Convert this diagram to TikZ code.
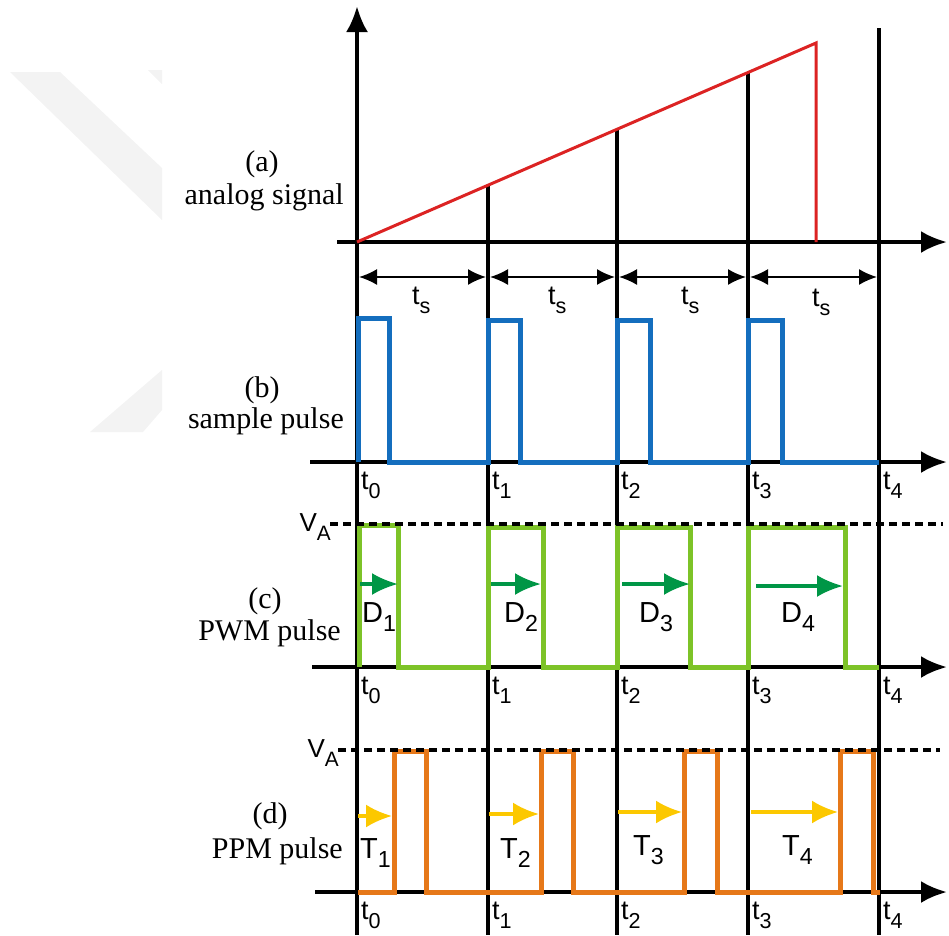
\documentclass[tikz,border=0pt]{standalone}
\usepackage{fontspec}
\setmainfont{Liberation Serif}
\newfontfamily\arialf{Liberation Sans}
\usetikzlibrary{arrows.meta}
\definecolor{sigred}{RGB}{220,35,35}
\definecolor{sigblue}{RGB}{20,110,190}
\definecolor{siggreen}{RGB}{125,195,40}
\definecolor{arrgreen}{RGB}{0,150,70}
\definecolor{sigorange}{RGB}{230,120,25}
\definecolor{arryellow}{RGB}{252,200,0}
\definecolor{wmark}{RGB}{243,243,243}
\newcommand\subsc[1]{\raisebox{-0.34em}{\scalebox{0.8}{#1}}}
\tikzset{
  axisline/.style={line width=4pt, -{Latex[length=26pt,width=22pt]}},
  tline/.style={line width=3.6pt},
  dimarrow/.style={line width=1.8pt, {Latex[length=18pt,width=16pt]}-{Latex[length=18pt,width=16pt]}},
  redsig/.style={line width=3pt, sigred},
  bluesig/.style={line width=5pt, sigblue, line join=miter},
  greensig/.style={line width=5pt, siggreen, line join=miter},
  orangesig/.style={line width=5pt, sigorange, line join=miter},
  vadash/.style={line width=3.2pt, dash pattern=on 8pt off 5pt},
  darr/.style={line width=3.2pt, arrgreen, -{Latex[length=26pt,width=22pt]}},
  tarr/.style={line width=3.2pt, arryellow, -{Latex[length=26pt,width=23pt]}},
  serlab/.style={font=\fontsize{30}{32}\selectfont, inner sep=0pt, anchor=base},
  serlabr/.style={font=\fontsize{30}{32}\selectfont, inner sep=0pt, anchor=base east},
  tlab/.style={font=\arialf\fontsize{27}{27}\selectfont, inner sep=0pt, anchor=base west},
  dlab/.style={font=\arialf\fontsize{29}{29}\selectfont, inner sep=0pt, anchor=base west},
  valab/.style={font=\arialf\fontsize{26}{26}\selectfont, inner sep=0pt, anchor=east},
}
\begin{document}
\begin{tikzpicture}[x=1pt,y=-1pt]
\useasboundingbox (0,0) rectangle (949,935);
% faint watermark
\fill[wmark] (10,72) -- (60,72) -- (162,168) -- (162,220) -- cycle;
\fill[wmark] (148,70) -- (162,70) -- (162,84) -- cycle;
\fill[wmark] (162,370) -- (162,410) -- (143,432) -- (90,432) -- cycle;

% time grid lines
\draw[tline] (488,185) -- (488,935);
\draw[tline] (617,130) -- (617,935);
\draw[tline] (748,72) -- (748,935);
\draw[tline] (879,28) -- (879,935);

% axes
\draw[axisline] (357,935) -- (357,6);
\draw[axisline] (337,242) -- (947,242);
\draw[axisline] (310,462) -- (947,462);
\draw[axisline] (312,667) -- (947,667);
\draw[axisline] (315,892) -- (947,892);

% (a) analog ramp
\draw[redsig] (357,242) -- (816,43) -- (816,242);

% sampling period arrows
\draw[dimarrow] (359,277) -- (486,277);
\draw[dimarrow] (490,277) -- (615,277);
\draw[dimarrow] (619,277) -- (746,277);
\draw[dimarrow] (750,277) -- (877,277);
\node[tlab] (ts1) at (412,304) {t\subsc{s}};
\node[tlab] (ts2) at (548,304) {t\subsc{s}};
\node[tlab] (ts3) at (681,304) {t\subsc{s}};
\node[tlab] (ts4) at (812,306) {t\subsc{s}};

% (b) sample pulses
\draw[bluesig] (358,462) -- (358,318) -- (389,318) -- (389,462) -- (488,462)
  -- (488,320) -- (520,320) -- (520,462) -- (617,462)
  -- (617,320) -- (650,320) -- (650,462) -- (748,462)
  -- (748,320) -- (782,320) -- (782,462) -- (879,462);

% (c) PWM pulses
\draw[greensig] (359,667) -- (359,525) -- (398,525) -- (398,667) -- (488,667)
  -- (488,527) -- (543,527) -- (543,667) -- (617,667)
  -- (617,527) -- (690,527) -- (690,667) -- (748,667)
  -- (748,527) -- (845,527) -- (845,667) -- (879,667);
\draw[vadash] (330,524) -- (943,524);
\draw[darr] (360,584) -- (398,584);
\draw[darr] (491,584) -- (541,584);
\draw[darr] (622,584) -- (690,584);
\draw[darr] (756,586) -- (843,586);

% (d) PPM pulses
\draw[orangesig] (358,892) -- (394,892) -- (394,751) -- (426,751) -- (426,892)
  -- (541,892) -- (541,751) -- (573,751) -- (573,892)
  -- (684,892) -- (684,751) -- (717,751) -- (717,892)
  -- (840,892) -- (840,751) -- (873,751) -- (873,892) -- (880,892);
\draw[vadash] (338,750) -- (940,750);
\draw[tarr] (358,816) -- (392,816);
\draw[tarr] (489,814) -- (539,814);
\draw[tarr] (618,812) -- (682,812);
\draw[tarr] (751,812) -- (838,812);

% amplitude labels
\node[valab] (va1) at (331,527) {V\subsc{A}};
\node[valab] (va2) at (339,753) {V\subsc{A}};

% pulse width / position labels
\node[dlab] (d1) at (362,622) {D\subsc{1}};
\node[dlab] (d2) at (504,622) {D\subsc{2}};
\node[dlab] (d3) at (639,622) {D\subsc{3}};
\node[dlab] (d4) at (781,622) {D\subsc{4}};
\node[dlab] (tt1) at (360,858) {T\subsc{1}};
\node[dlab] (tt2) at (500,858) {T\subsc{2}};
\node[dlab] (tt3) at (633,855) {T\subsc{3}};
\node[dlab] (tt4) at (782,855) {T\subsc{4}};

% time labels
\foreach \yy/\row in {489/b,694/c,919/d}{
  \node[tlab] (t0\row) at (361,\yy) {t\subsc{0}};
  \node[tlab] (t1\row) at (492,\yy) {t\subsc{1}};
  \node[tlab] (t2\row) at (621,\yy) {t\subsc{2}};
  \node[tlab] (t3\row) at (752,\yy) {t\subsc{3}};
  \node[tlab] (t4\row) at (883,\yy) {t\subsc{4}};
}

% panel labels
\node[serlab] (la) at (262,171) {(a)};
\node[serlabr] (lan) at (344,204) {analog signal};
\node[serlab] (lb) at (262,397) {(b)};
\node[serlabr] (lsp) at (344,428) {sample pulse};
\node[serlab] (lc) at (265,608) {(c)};
\node[serlabr] (lpwm) at (341,640) {PWM pulse};
\node[serlab] (ld) at (270,823) {(d)};
\node[serlabr] (lppm) at (343,858) {PPM pulse};
\end{tikzpicture}
\end{document}
